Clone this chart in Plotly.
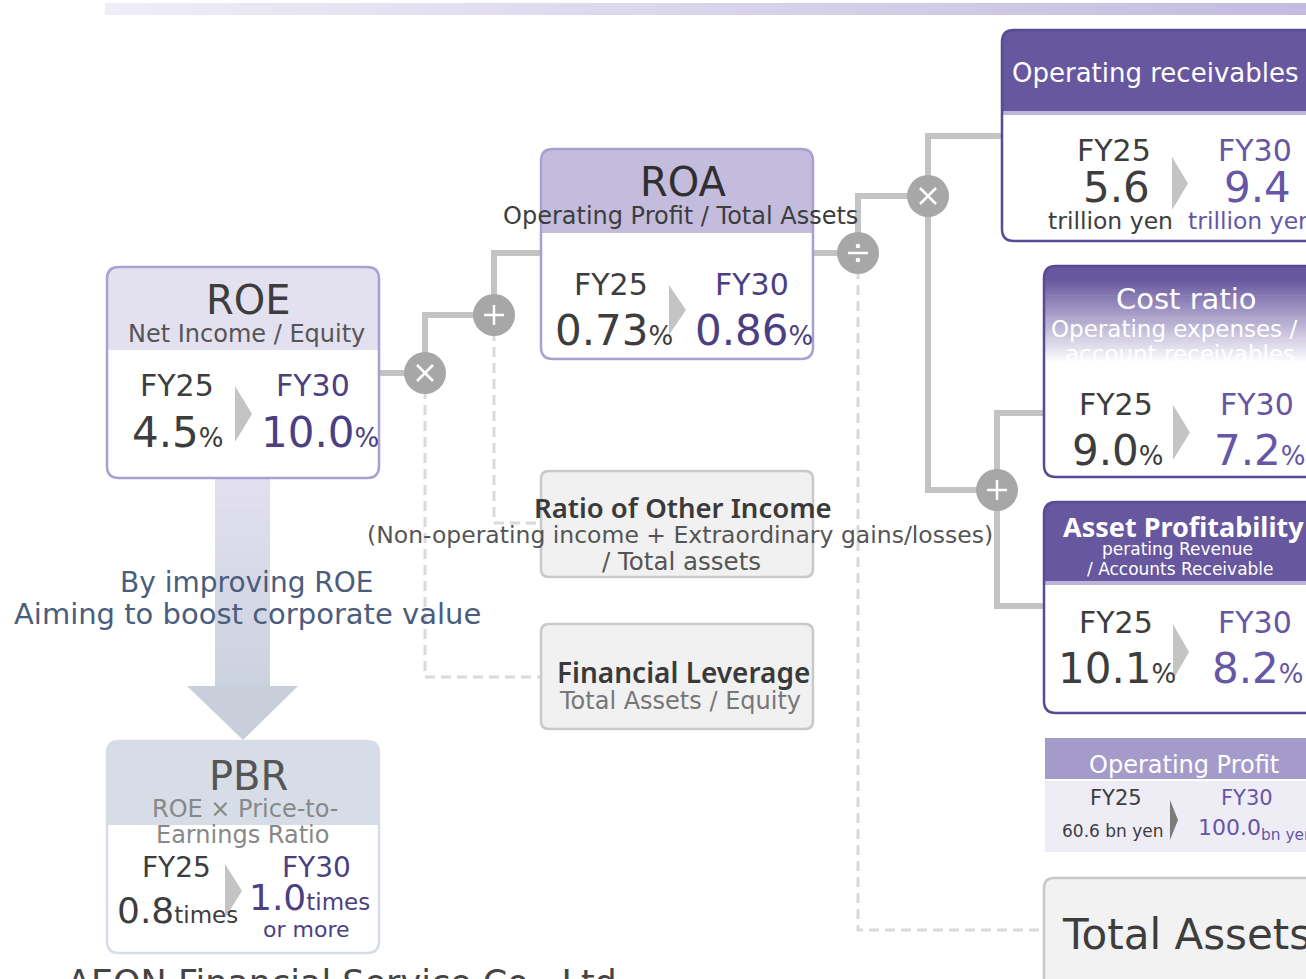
import plotly.graph_objects as go

# ---------------- data ----------------
kpi_names = ["ROE", "ROA", "Operating receivables", "Cost ratio", "Asset Profitability", "PBR"]
kpi_formulas = [
    ["Net Income / Equity"],
    ["Operating Profit / Total Assets"],
    [],
    ["Operating expenses /", "account receivables"],
    ["perating Revenue", "/ Accounts Receivable"],
    ["ROE × Price-to-", "Earnings Ratio"],
]
period_labels = ["FY25", "FY30"]
fy25_values = ["4.5", "0.73", "5.6", "9.0", "10.1", "0.8"]
fy30_values = ["10.0", "0.86", "9.4", "7.2", "8.2", "1.0"]
value_units = ["%", "%", "trillion yen", "%", "%", "times"]
pbr_target_note = "or more"

op_profit_name = "Operating Profit"
op_profit_values = ["60.6", "100.0"]
op_profit_unit = "bn yen"

other_nodes = ["Ratio of Other Income", "Financial Leverage", "Total Assets"]
other_formulas = [
    ["(Non-operating income + Extraordinary gains/losses)", "/ Total assets"],
    ["Total Assets / Equity"],
    [],
]
operators = ["×", "+", "÷", "×", "+"]
message_lines = ["By improving ROE", "Aiming to boost corporate value"]
company_name = "AEON Financial Service Co., Ltd."

# ---------------- helpers ----------------
W, H = 1306, 979
FONT = "DejaVu Sans"
FONT_B = "Noto Sans"
shapes, annots = [], []


def hex2rgb(h):
    h = h.lstrip("#")
    return tuple(int(h[i:i + 2], 16) for i in (0, 2, 4))


def mix(c0, c1, t):
    a, b = hex2rgb(c0), hex2rgb(c1)
    return "rgb(%d,%d,%d)" % tuple(round(a[i] + (b[i] - a[i]) * t) for i in range(3))


def rr(x0, y0, x1, y1, r, top=True, bottom=True):
    rt = r if top else 0
    rb = r if bottom else 0
    p = f"M {x0 + rt},{y0} L {x1 - rt},{y0} "
    if rt:
        p += f"Q {x1},{y0} {x1},{y0 + rt} "
    p += f"L {x1},{y1 - rb} "
    if rb:
        p += f"Q {x1},{y1} {x1 - rb},{y1} "
    p += f"L {x0 + rb},{y1} "
    if rb:
        p += f"Q {x0},{y1} {x0},{y1 - rb} "
    p += f"L {x0},{y0 + rt} "
    if rt:
        p += f"Q {x0},{y0} {x0 + rt},{y0} "
    return p + "Z"


def path(d, fill=None, line=None, lw=0, dash=None):
    ln = dict(width=lw, color=line or "rgba(0,0,0,0)")
    if dash:
        ln["dash"] = dash
    shapes.append(dict(type="path", path=d, xref="x", yref="y", layer="above", line=ln,
                       fillcolor=fill or "rgba(0,0,0,0)"))


def rect(x0, y0, x1, y1, fill):
    shapes.append(dict(type="rect", x0=x0, y0=y0, x1=x1, y1=y1, xref="x", yref="y",
                       layer="above", line=dict(width=0), fillcolor=fill))


def vgrad(x0, y0, x1, y1, c0, c1, n=50):
    h = (y1 - y0) / n
    for i in range(n):
        rect(x0, y0 + i * h, x1, y0 + (i + 1) * h + 0.6, mix(c0, c1, i / (n - 1)))


def hgrad(x0, y0, x1, y1, c0, c1, n=80):
    w = (x1 - x0) / n
    for i in range(n):
        rect(x0 + i * w, y0, x0 + (i + 1) * w + 0.6, y1, mix(c0, c1, i / (n - 1)))


def circle(cx, cy, r, fill):
    shapes.append(dict(type="circle", x0=cx - r, x1=cx + r, y0=cy - r, y1=cy + r, xref="x",
                       yref="y", layer="above", line=dict(width=0), fillcolor=fill))


def chevron(x0, y0, x1, y1, color="#c4c4c4"):
    path(f"M {x0},{y0} L {x1},{(y0 + y1) / 2} L {x0},{y1} Z", fill=color)


def txt(x, y, s, size, color, anchor="center", weight=None, family=FONT, yanchor="middle"):
    f = dict(family=family, size=size, color=color)
    if weight:
        f["weight"] = weight
    annots.append(dict(x=x, y=y, xref="x", yref="y", text=s, showarrow=False, font=f,
                       xanchor=anchor, yanchor=yanchor))


def val(x, y, v, unit, size, usize, color):
    txt(x, y, f"{v}<span style='font-size:{usize}px'>{unit}</span>", size, color)


DARK = "#3d3d3d"
PURPLE_D = "#4b3f82"
PURPLE_M = "#6656a6"
HEAD_M = "#67579f"
LINE_C = "#c3c3c3"
DASH_C = "#dadada"

# ---------------- top bar ----------------
hgrad(105, 3, 1306, 15, "#efedf7", "#c3bcdf")

# ---------------- connectors ----------------
solid = [
    "M 379,373 L 425,373",
    "M 425,373 L 425,315 L 494,315",
    "M 494,315 L 494,253 L 541,253",
    "M 813,253 L 858,253",
    "M 858,253 L 858,196 L 928,196",
    "M 928,196 L 928,136 L 1002,136",
    "M 928,196 L 928,490 L 997,490",
    "M 997,490 L 997,413 L 1044,413",
    "M 997,490 L 997,606 L 1044,606",
]
dashed = [
    "M 425,373 L 425,677 L 541,677",
    "M 494,315 L 494,523 L 541,523",
    "M 858,253 L 858,930 L 1044,930",
]
for d in dashed:
    path(d, line=DASH_C, lw=3, dash="10px,6px")
for d in solid:
    path(d, line=LINE_C, lw=6)

# ---------------- big arrow ROE -> PBR ----------------
vgrad(215, 478, 270, 687, "#e2dff0", "#cbd2df", n=40)
path("M 187,686 L 298,686 L 243,740 Z", fill="#c8cfdb")

# ---------------- ROE box ----------------
path(rr(107, 267, 379, 478, 12), fill="white")
path(rr(107, 267, 379, 350, 12, bottom=False), fill="#e3e0ef")
path(rr(107, 267, 379, 478, 12), line="#a99fd0", lw=2.5)
txt(248, 300, kpi_names[0], 40, DARK)
txt(246, 334, kpi_formulas[0][0], 24, "#555555")
txt(177, 385, period_labels[0], 30, DARK)
txt(313, 385, period_labels[1], 30, PURPLE_D)
val(178, 432, fy25_values[0], value_units[0], 42, 26, DARK)
val(320, 432, fy30_values[0], value_units[0], 42, 26, PURPLE_D)
chevron(235, 386, 252, 442)

# ---------------- ROA box ----------------
path(rr(541, 149, 813, 359, 12), fill="white")
path(rr(541, 149, 813, 233, 12, bottom=False), fill="#c3bcdd")
path(rr(541, 149, 813, 359, 12), line="#a99fd0", lw=2.5)
txt(683, 182, kpi_names[1], 40, "#2f2f2f")
txt(680, 216, kpi_formulas[1][0], 24, DARK)
txt(611, 284, period_labels[0], 30, DARK)
txt(752, 284, period_labels[1], 30, PURPLE_D)
val(614, 330, fy25_values[1], value_units[1], 42, 26, DARK)
val(754, 330, fy30_values[1], value_units[1], 42, 26, PURPLE_D)
chevron(669, 285, 686, 335)

# ---------------- Operating receivables box ----------------
path(rr(1002, 30, 1340, 241, 12), fill="white")
path(rr(1002, 30, 1340, 113, 12, bottom=False), fill=HEAD_M)
rect(1002, 111, 1340, 115, "#bdb4da")
path(rr(1002, 30, 1340, 241, 12), line="#5a4a93", lw=2.5)
txt(1010, 73, kpi_names[2], 26, "white", anchor="left")
txt(1114, 150, period_labels[0], 30, DARK)
txt(1255, 150, period_labels[1], 30, PURPLE_M)
txt(1116, 187, fy25_values[2], 42, DARK)
txt(1257, 187, fy30_values[2], 42, PURPLE_M)
txt(1110, 221, value_units[2], 23.5, DARK)
txt(1250, 221, value_units[2], 23.5, PURPLE_M)
chevron(1172, 157, 1188, 210)

# ---------------- Cost ratio box ----------------
path(rr(1044, 266, 1340, 477, 12), fill="white")
path(rr(1044, 266, 1340, 280, 12, bottom=False), fill=HEAD_M)
vgrad(1044, 278, 1340, 364, HEAD_M, "#ffffff", n=45)
path(rr(1044, 266, 1340, 477, 12), line="#5a4a93", lw=2.5)
txt(1186, 299, kpi_names[3], 29, "white")
txt(1174, 329, kpi_formulas[3][0], 23, "white")
txt(1180, 354, kpi_formulas[3][1], 23, "white")
txt(1116, 404, period_labels[0], 30, DARK)
txt(1257, 404, period_labels[1], 30, PURPLE_M)
val(1118, 450, fy25_values[3], value_units[3], 42, 26, DARK)
val(1260, 450, fy30_values[3], value_units[3], 42, 26, PURPLE_M)
chevron(1173, 405, 1190, 460)

# ---------------- Asset Profitability box ----------------
path(rr(1044, 502, 1340, 713, 12), fill="white")
path(rr(1044, 502, 1340, 583, 12, bottom=False), fill=HEAD_M)
rect(1044, 581, 1340, 585, "#bdb4da")
path(rr(1044, 502, 1340, 713, 12), line="#5a4a93", lw=2.5)
txt(1183, 526, kpi_names[4], 27, "white", weight="bold", family=FONT_B)
txt(1177, 549, kpi_formulas[4][0], 17, "white")
txt(1180, 569, kpi_formulas[4][1], 17, "white")
txt(1116, 622, period_labels[0], 30, DARK)
txt(1255, 622, period_labels[1], 30, PURPLE_M)
val(1117, 668, fy25_values[4], value_units[4], 42, 26, DARK)
val(1258, 668, fy30_values[4], value_units[4], 42, 26, PURPLE_M)
chevron(1173, 624, 1189, 680)

# ---------------- Operating Profit panel ----------------
rect(1045, 738, 1340, 779, "#a59bca")
rect(1045, 781, 1340, 852, "#eeecf5")
txt(1184, 765, op_profit_name, 24, "white")
txt(1116, 798, period_labels[0], 21, DARK)
txt(1247, 798, period_labels[1], 21, PURPLE_M)
txt(1113, 831, f"{op_profit_values[0]} {op_profit_unit}", 17, DARK)
txt(1196, 829, f"{op_profit_values[1]}<sub>{op_profit_unit}</sub>", 22, PURPLE_M, anchor="left")
chevron(1170, 800, 1178, 840, color="#7b7b7b")

# ---------------- Total Assets ----------------
path(rr(1044, 878, 1340, 1010, 10), fill="#f2f2f2", line="#c8c8c8", lw=2.5)
txt(1060, 934, other_nodes[2], 42, DARK, anchor="left")

# ---------------- Ratio of Other Income ----------------
path(rr(541, 471, 813, 577, 8), fill="#f1f1f1", line="#c9c9c9", lw=2.5)
txt(683, 507, other_nodes[0], 27.5, "#3a3a3a", weight=600, family=FONT_B)
txt(680, 535, other_formulas[0][0], 23.5, "#555555")
txt(681, 561, other_formulas[0][1], 24.5, "#555555")

# ---------------- Financial Leverage ----------------
path(rr(541, 624, 813, 729, 8), fill="#f1f1f1", line="#c9c9c9", lw=2.5)
txt(683, 672, other_nodes[1], 28, "#3a3a3a", weight=600, family=FONT_B)
txt(680, 701, other_formulas[1][0], 24, "#777777")

# ---------------- PBR box ----------------
path(rr(107, 741, 379, 953, 12), fill="white")
path(rr(107, 741, 379, 825, 12, bottom=False), fill="#d7dde7")
path(rr(107, 741, 379, 953, 12), line="#d7dde7", lw=2.5)
txt(248, 776, kpi_names[5], 40, "#555555")
txt(245, 809, kpi_formulas[5][0], 24, "#888888")
txt(242, 835, kpi_formulas[5][1], 24, "#888888")
txt(176, 867, period_labels[0], 28, DARK)
txt(316, 867, period_labels[1], 28, PURPLE_D)
val(177, 910, fy25_values[5], value_units[5], 36, 23, DARK)
val(309, 897, fy30_values[5], value_units[5], 36, 23, PURPLE_D)
txt(306, 929, pbr_target_note, 22, PURPLE_D)
chevron(225, 864, 242, 918)

# ---------------- operator circles ----------------
op_pos = [(425, 373), (494, 315), (858, 253), (928, 196), (997, 490)]
for (cx, cy), op in zip(op_pos, operators):
    circle(cx, cy, 21, "#a7a7a7")
    if op == "+":
        path(f"M {cx - 10},{cy} L {cx + 10},{cy} M {cx},{cy - 10} L {cx},{cy + 10}", line="white", lw=2.5)
    elif op == "×":
        path(f"M {cx - 8},{cy - 8} L {cx + 8},{cy + 8} M {cx - 8},{cy + 8} L {cx + 8},{cy - 8}", line="white", lw=2.5)
    else:
        path(f"M {cx - 10},{cy} L {cx + 10},{cy}", line="white", lw=2.5)
        circle(cx, cy - 7, 2.3, "white")
        circle(cx, cy + 7, 2.3, "white")

# ---------------- message & footer ----------------
txt(247, 582, message_lines[0], 28, "#4a5d7c")
txt(247, 614, message_lines[1], 29, "#4a5d7c")
txt(347, 961, company_name, 35, "#444444", yanchor="top")

fig = go.Figure()
fig.update_layout(
    width=W, height=H, margin=dict(l=0, r=0, t=0, b=0),
    paper_bgcolor="white", plot_bgcolor="white", showlegend=False,
    xaxis=dict(range=[0, W], visible=False, fixedrange=True),
    yaxis=dict(range=[H, 0], visible=False, fixedrange=True),
    shapes=shapes, annotations=annots,
)
fig.write_html("out.html", config={"displayModeBar": False},
               post_script="document.body.style.margin='0';document.body.style.overflow='hidden';")
